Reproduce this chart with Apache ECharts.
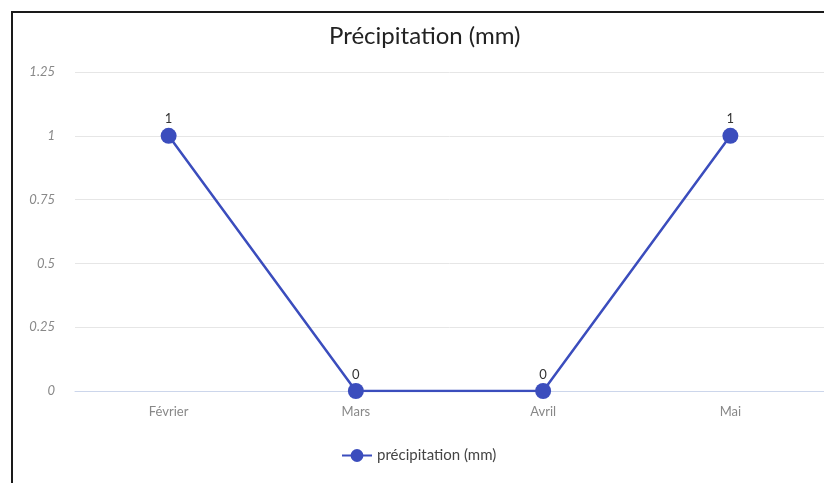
<!DOCTYPE html>
<html lang="fr">
<head>
    <meta charset="UTF-8">
    <title>Précipitation (mm)</title>
    <script type="text/javascript" src="https://cdn.jsdelivr.net/npm/echarts@6/dist/echarts.min.js"></script>
    <style>
        html, body { margin: 0; padding: 0; background: #fff; overflow: hidden; }
        #chart { position: absolute; left: 0; top: 0; width: 824px; height: 483px; }
        #frame { position: absolute; left: 11px; top: 11px; width: 900px; height: 600px;
                 border-left: 2px solid #1a1a1a; border-top: 2px solid #1a1a1a; pointer-events: none; }
    </style>
</head>
<body>
    <div id="chart"></div>
    <div id="frame"></div>
<script>
    // données
    var mois = ['Février', 'Mars', 'Avril', 'Mai'];
    var precipitation = [1, 0, 0, 1];
    var nomSerie = 'précipitation (mm)';

    var font = 'Lato';
    var chart = echarts.init(document.getElementById('chart'));
    var option = {
        title: {
            text: 'Précipitation (mm)',
            left: 324,
            top: 19,
            textStyle: { fontFamily: font, fontSize: 24, fontWeight: 'normal', color: '#222' }
        },
        legend: {
            data: [nomSerie],
            left: 336,
            top: 443,
            itemWidth: 30,
            itemHeight: 16,
            itemGap: 6,
            textStyle: { fontFamily: font, fontSize: 15, color: '#444' }
        },
        grid: { left: 75, right: 0, top: 72, bottom: 92 },
        xAxis: {
            type: 'category',
            data: mois,
            axisLine: { lineStyle: { color: '#ccd6eb' } },
            axisTick: { show: false },
            axisLabel: { fontFamily: font, fontSize: 13, color: '#888', margin: 14 }
        },
        yAxis: {
            type: 'value',
            min: 0,
            max: 1.25,
            interval: 0.25,
            axisLine: { show: false },
            axisTick: { show: false },
            splitLine: { lineStyle: { color: '#e6e6e6' } },
            axisLabel: { fontFamily: font, fontSize: 13, fontStyle: 'italic', color: '#888', margin: 20 }
        },
        series: [{
            name: nomSerie,
            type: 'line',
            data: precipitation,
            symbol: 'circle',
            symbolSize: 16,
            lineStyle: { width: 2.5, color: '#3b4dbd' },
            itemStyle: { color: '#3b4dbd' },
            label: { show: true, position: 'top', distance: 2, fontFamily: font, fontSize: 13, color: '#333' }
        }]
    };
    chart.setOption(option);
</script>
</body>
</html>
